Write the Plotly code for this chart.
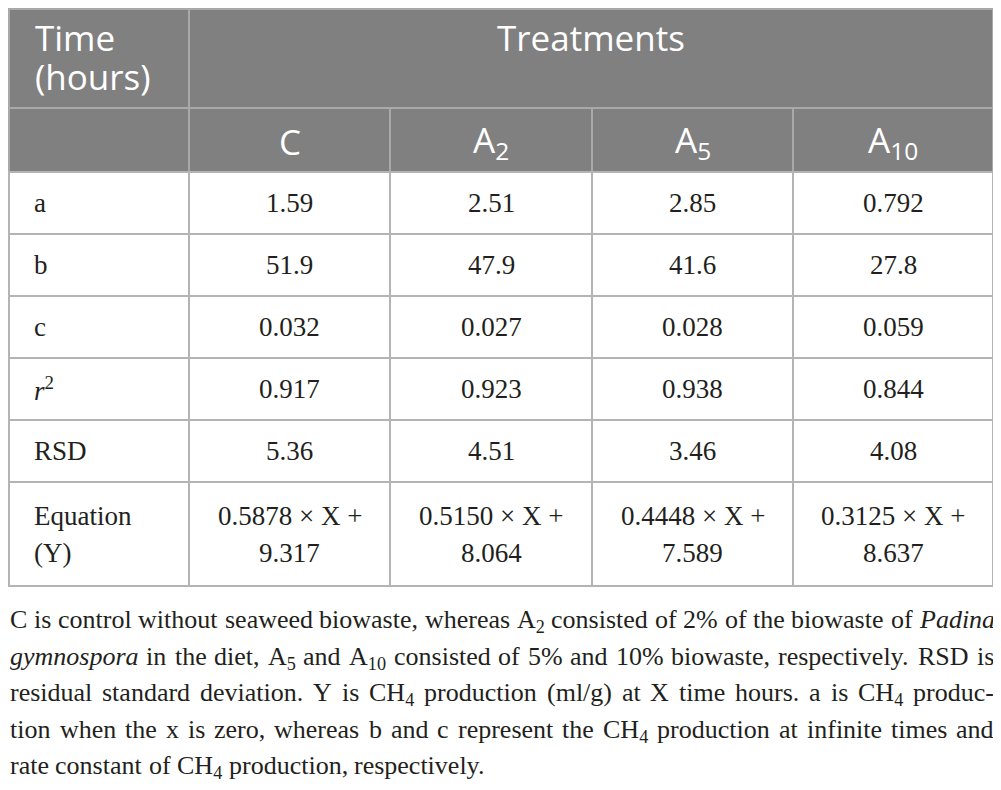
import re
import plotly.graph_objects as go

# table content
row_labels = ["a", "b", "c", "<i>r</i><sup>2</sup>", "RSD"]
treatments = ["C", "A<sub>2</sub>", "A<sub>5</sub>", "A<sub>10</sub>"]
a_values = [1.59, 2.51, 2.85, 0.792]
b_values = [51.9, 47.9, 41.6, 27.8]
c_values = [0.032, 0.027, 0.028, 0.059]
r2_values = [0.917, 0.923, 0.938, 0.844]
rsd_values = [5.36, 4.51, 3.46, 4.08]
slope_values = [0.5878, 0.5150, 0.4448, 0.3125]
intercept_values = [9.317, 8.064, 7.589, 8.637]

caption_lines = [
    "C is control without seaweed biowaste, whereas A<sub>2</sub> consisted of 2% of the biowaste of <i>Padina</i>",
    "<i>gymnospora</i> in the diet, A<sub>5</sub> and A<sub>10</sub> consisted of 5% and 10% biowaste, respectively. RSD is",
    "residual standard deviation. Y is CH<sub>4</sub> production (ml/g) at X time hours. a is CH<sub>4</sub> produc-",
    "tion when the x is zero, whereas b and c represent the CH<sub>4</sub> production at infinite times and",
    "rate constant of CH<sub>4</sub> production, respectively.",
]

# the page puts the figure 8px in from the corner, so the axes start at 8
OFF = 8
W, H = 990, 780
col_edges = [9, 189, 390, 592, 793, 993]
row_edges = [9, 108, 172, 234, 296, 358, 420, 482, 586]
caption_left = 9
caption_top, caption_step = 604, 36.5

HEAD_FILL = "#808080"
HEAD_LINE = "#a9a9a9"
BODY_LINE = "#b4b4b4"
TEXT = "#231f20"
SANS = "Open Sans"
SERIF = "Liberation Serif"
HEAD_SIZE = 35
BODY_SIZE = 27
CAP_SIZE = 26

# Times (Liberation Serif) advance widths, 1/1000 em, for justifying the caption
ROMAN = dict(zip("abcdefghijklmnopqrstuvwxyz",
                 [444, 500, 444, 500, 444, 333, 500, 500, 278, 278, 500, 278, 778,
                  500, 500, 500, 500, 333, 389, 278, 500, 500, 722, 500, 500, 444]))
ROMAN.update({"A": 722, "C": 667, "D": 722, "H": 722, "R": 667, "S": 556, "X": 722,
              "Y": 722, "P": 556, ",": 250, ".": 250, "%": 833, "(": 333, ")": 333,
              "/": 278, "-": 333})
ROMAN.update({d: 500 for d in "0123456789"})
ITALIC = dict(zip("abcdefghijklmnopqrstuvwxyz",
                  [500, 500, 444, 500, 444, 278, 500, 500, 278, 278, 444, 278, 722,
                   500, 500, 500, 500, 389, 389, 278, 500, 444, 667, 444, 444, 389]))
ITALIC.update({"P": 611})


def html_width(s, size):
    w, ital, sub = 0.0, False, False
    for tok in re.findall(r"</?\w+>|.", s):
        if tok.startswith("<"):
            if tok == "<i>":
                ital = True
            elif tok == "</i>":
                ital = False
            elif tok == "<sub>":
                sub = True
            elif tok == "</sub>":
                sub = False
            continue
        table = ITALIC if ital else ROMAN
        w += table.get(tok, ROMAN.get(tok, 500)) * (0.7 if sub else 1.0)
    return w * size / 1000


shapes = []
annotations = []


def cell(x0, x1, y0, y1, fill, line):
    shapes.append(dict(type="rect", xref="x", yref="y", x0=x0, x1=x1, y0=y0, y1=y1,
                       fillcolor=fill, line=dict(color=line, width=2), layer="below"))


def text(x, y, s, size, color, family, anchor="center", yanchor="middle"):
    annotations.append(dict(x=x, y=y, xref="x", yref="y", text=s, showarrow=False,
                            xanchor=anchor, yanchor=yanchor, borderpad=0,
                            font=dict(size=size, color=color, family=family)))


# header rows
cell(col_edges[0], col_edges[1], row_edges[0], row_edges[1], HEAD_FILL, HEAD_LINE)
cell(col_edges[1], col_edges[-1], row_edges[0], row_edges[1], HEAD_FILL, HEAD_LINE)
cell(col_edges[0], col_edges[1], row_edges[1], row_edges[2], HEAD_FILL, HEAD_LINE)
text(col_edges[0] + 25, 37, "Time", HEAD_SIZE, "white", SANS, "left")
text(col_edges[0] + 25, 76, "(hours)", HEAD_SIZE, "white", SANS, "left")
text((col_edges[1] + col_edges[-1]) / 2, 37, "Treatments", HEAD_SIZE, "white", SANS)
for j, t in enumerate(treatments):
    cell(col_edges[j + 1], col_edges[j + 2], row_edges[1], row_edges[2], HEAD_FILL, HEAD_LINE)
    text((col_edges[j + 1] + col_edges[j + 2]) / 2, (row_edges[1] + row_edges[2]) / 2 + 1,
         t, HEAD_SIZE, "white", SANS)

# body rows
body = [
    ["{:.3g}".format(v) for v in a_values],
    ["{:.3g}".format(v) for v in b_values],
    ["{:.3g}".format(v) for v in c_values],
    ["{:.3g}".format(v) for v in r2_values],
    ["{:.3g}".format(v) for v in rsd_values],
]
for i, (label, vals) in enumerate(zip(row_labels, body)):
    y0, y1 = row_edges[i + 2], row_edges[i + 3]
    ym = (y0 + y1) / 2
    cell(col_edges[0], col_edges[1], y0, y1, "white", BODY_LINE)
    text(col_edges[0] + 24, ym, label, BODY_SIZE, TEXT, SERIF, "left")
    for j, v in enumerate(vals):
        cell(col_edges[j + 1], col_edges[j + 2], y0, y1, "white", BODY_LINE)
        text((col_edges[j + 1] + col_edges[j + 2]) / 2, ym, v, BODY_SIZE, TEXT, SERIF)

# equation row (two text lines per cell)
y0, y1 = row_edges[-2], row_edges[-1]
ym = (y0 + y1) / 2
cell(col_edges[0], col_edges[1], y0, y1, "white", BODY_LINE)
text(col_edges[0] + 24, ym - 18, "Equation", BODY_SIZE, TEXT, SERIF, "left")
text(col_edges[0] + 24, ym + 19, "(Y)", BODY_SIZE, TEXT, SERIF, "left")
for j, (s, b) in enumerate(zip(slope_values, intercept_values)):
    xm = (col_edges[j + 1] + col_edges[j + 2]) / 2
    cell(col_edges[j + 1], col_edges[j + 2], y0, y1, "white", BODY_LINE)
    text(xm, ym - 18, "{:.4f} × X +".format(s), BODY_SIZE, TEXT, SERIF)
    text(xm, ym + 19, "{:.3f}".format(b), BODY_SIZE, TEXT, SERIF)

# caption under the table, justified word by word (last line ragged)
right = col_edges[-1]
for k, line in enumerate(caption_lines):
    words = line.split(" ")
    widths = [html_width(wd, CAP_SIZE) for wd in words]
    space = 0.25 * CAP_SIZE
    if k < len(caption_lines) - 1:
        space = max((right - caption_left - sum(widths)) / (len(words) - 1), 0.12 * CAP_SIZE)
    x = caption_left
    for wd, w in zip(words, widths):
        text(x, caption_top + k * caption_step, wd, CAP_SIZE, TEXT, SERIF, "left", "top")
        x += w + space

fig = go.Figure()
fig.update_layout(
    width=W, height=H,
    margin=dict(l=0, r=0, t=0, b=0),
    paper_bgcolor="white", plot_bgcolor="white",
    xaxis=dict(range=[OFF, OFF + W], visible=False, fixedrange=True),
    yaxis=dict(range=[OFF + H, OFF], visible=False, fixedrange=True),
    shapes=shapes, annotations=annotations,
    showlegend=False,
)
fig.write_html("out.html")
